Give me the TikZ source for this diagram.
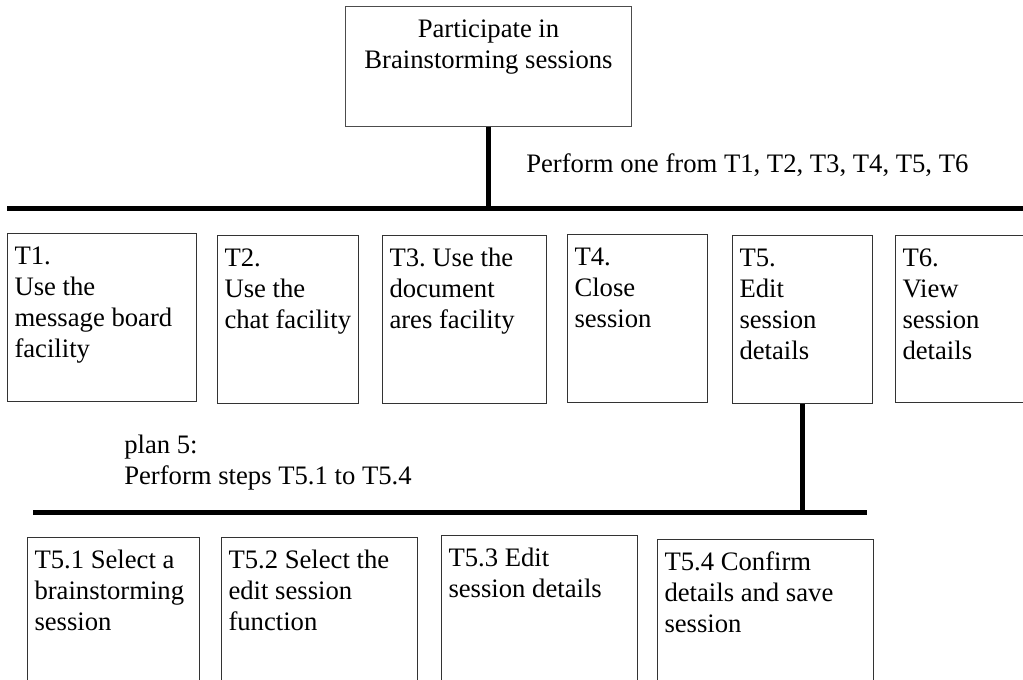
\documentclass[tikz,border=0pt]{standalone}
\usepackage{fontspec}
\setmainfont{Liberation Serif}
\frenchspacing
\newlength\pxu
\setlength\pxu{0.75pt}
% box text: width and height in px, first baseline one line below the top edge
\newcommand\tasktext[3]{\parbox[t][#2\pxu][t]{#1\pxu}{\raggedright\rule{0pt}{23.25pt}#3}}
\newcommand\roottext[3]{\parbox[t][#2\pxu][t]{#1\pxu}{\centering\rule{0pt}{23.25pt}#3}}
\tikzset{
  taskbox/.style={draw=black!80, line width=0.75pt, anchor=north west,
    inner xsep=7\pxu, inner ysep=0pt},
  rootbox/.style={draw=black!70, line width=0.75pt, anchor=north west,
    inner xsep=7\pxu, inner ysep=0pt},
  plantext/.style={anchor=base west, inner sep=0pt},
  bar/.style={line width=5\pxu, black},
  stem/.style={line width=4.5\pxu, black},
}
\begin{document}
\begin{tikzpicture}[x=0.75pt, y=-0.75pt,
  font=\fontsize{20pt}{23.25pt}\selectfont]
\clip (0,0) rectangle (1023,680);
\fill[white] (0,0) rectangle (1023,680);

% goal
\node[rootbox] (root) at (345,6) {\roottext{272}{120}{Participate in\\Brainstorming sessions}};

% first level
\node[taskbox] (t1) at (7,233)   {\tasktext{175}{168}{T1.\\Use the\\message board\\facility}};
\node[taskbox] (t2) at (217,235) {\tasktext{127}{168}{T2.\\Use the\\chat facility}};
\node[taskbox] (t3) at (382,235) {\tasktext{150}{168}{T3. Use the\\document\\ares facility}};
\node[taskbox] (t4) at (567,234) {\tasktext{126}{168}{T4.\\Close\\session}};
\node[taskbox] (t5) at (732,235) {\tasktext{126}{168}{T5.\\Edit\\session\\details}};
\node[taskbox] (t6) at (895,235) {\tasktext{140}{167}{T6.\\View\\session\\details}};

\coordinate (barL) at (7,209);
\coordinate (barR) at (1030,209);
\draw[bar] (barL) -- (barR);
\draw[stem] (root.south) -- (root.south |- barL);
\node[plantext] (plan0) at (526,173) {Perform one from T1, T2, T3, T4, T5, T6};

% second level (plan 5)
\node[plantext] (plan5) at (124,453) {\parbox[t]{400\pxu}{plan 5:\\Perform steps T5.1 to T5.4}};
\coordinate (bar2L) at (33,512);
\coordinate (bar2R) at (867,512);
\draw[bar] (bar2L) -- (bar2R);
\draw[bar] (t5.south) -- (t5.south |- bar2L);

\node[taskbox] (t51) at (27,537)  {\tasktext{158}{170}{T5.1 Select a\\brainstorming\\session}};
\node[taskbox] (t52) at (221,537) {\tasktext{182}{170}{T5.2 Select the\\edit session\\function}};
\node[taskbox] (t53) at (441,535) {\tasktext{182}{170}{T5.3 Edit\\session details}};
\node[taskbox] (t54) at (657,539) {\tasktext{202}{170}{T5.4 Confirm\\details and save\\session}};
\end{tikzpicture}
\end{document}
